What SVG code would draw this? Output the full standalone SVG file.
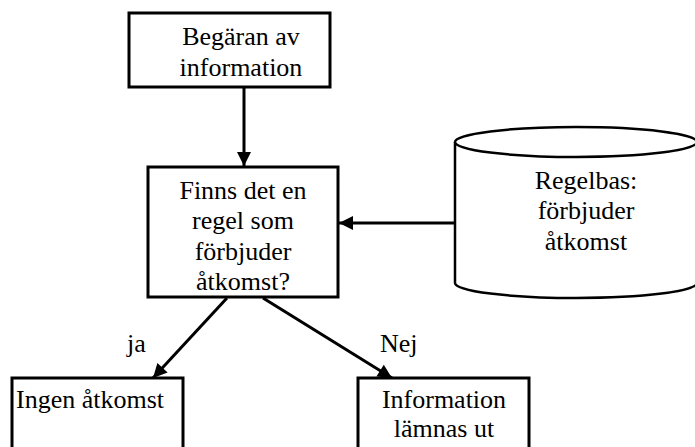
<svg xmlns="http://www.w3.org/2000/svg" width="695" height="447" viewBox="0 0 695 447" font-family="'Liberation Serif', 'Times New Roman', Tinos, 'DejaVu Serif', serif">
<style>
.box{fill:#fff;stroke:#000;stroke-width:3}
.cyl{fill:#fff;stroke:#000;stroke-width:2.5}
.t{font-family:'Liberation Serif','Times New Roman',Tinos,'DejaVu Serif',serif;font-size:26px;fill:#000}
.c{text-anchor:middle}
.edge{stroke:#000;stroke-width:3;fill:none}
</style>
<defs>
<marker id="ah" markerUnits="userSpaceOnUse" markerWidth="16" markerHeight="16" viewBox="0 0 16 16" refX="15" refY="8" orient="auto">
<path d="M1,1 L15,8 L1,15 Z" fill="#000"/>
</marker>
</defs>
<rect width="695" height="447" fill="#fff"/>
<g id="connectors">
<line class="edge" x1="244" y1="87" x2="244" y2="166" marker-end="url(#ah)"/>
<line class="edge" x1="455" y1="223" x2="339" y2="223" marker-end="url(#ah)"/>
<line class="edge" x1="227" y1="298" x2="153" y2="378" marker-end="url(#ah)"/>
<line class="edge" x1="263" y1="298" x2="392" y2="378" marker-end="url(#ah)"/>
<text class="t" x="127" y="352">ja</text>
<text class="t" x="380" y="352">Nej</text>
</g>
<g id="request">
<rect class="box" x="129" y="13" width="201" height="74"/>
<text class="t c" x="241" y="45">Begäran av</text>
<text class="t c" x="241" y="76">information</text>
</g>
<g id="question">
<rect class="box" x="148" y="167" width="190" height="130"/>
<text class="t c" x="243" y="199">Finns det en</text>
<text class="t c" x="243" y="229">regel som</text>
<text class="t c" x="243" y="260">förbjuder</text>
<text class="t c" x="243" y="290">åtkomst?</text>
</g>
<g id="rulebase">
<path class="cyl" d="M455,142 L455,283 A121,15 0 0 0 697,283 L697,142"/>
<ellipse class="cyl" cx="576" cy="142" rx="121" ry="15"/>
<text class="t c" x="586" y="189">Regelbas:</text>
<text class="t c" x="586" y="219">förbjuder</text>
<text class="t c" x="586" y="250">åtkomst</text>
</g>
<g id="noaccess">
<rect class="box" x="12" y="378" width="171" height="80"/>
<text class="t" x="16" y="408">Ingen åtkomst</text>
</g>
<g id="granted">
<rect class="box" x="358" y="378" width="171" height="80"/>
<text class="t c" x="444" y="408">Information</text>
<text class="t c" x="444" y="437">lämnas ut</text>
</g>
</svg>
